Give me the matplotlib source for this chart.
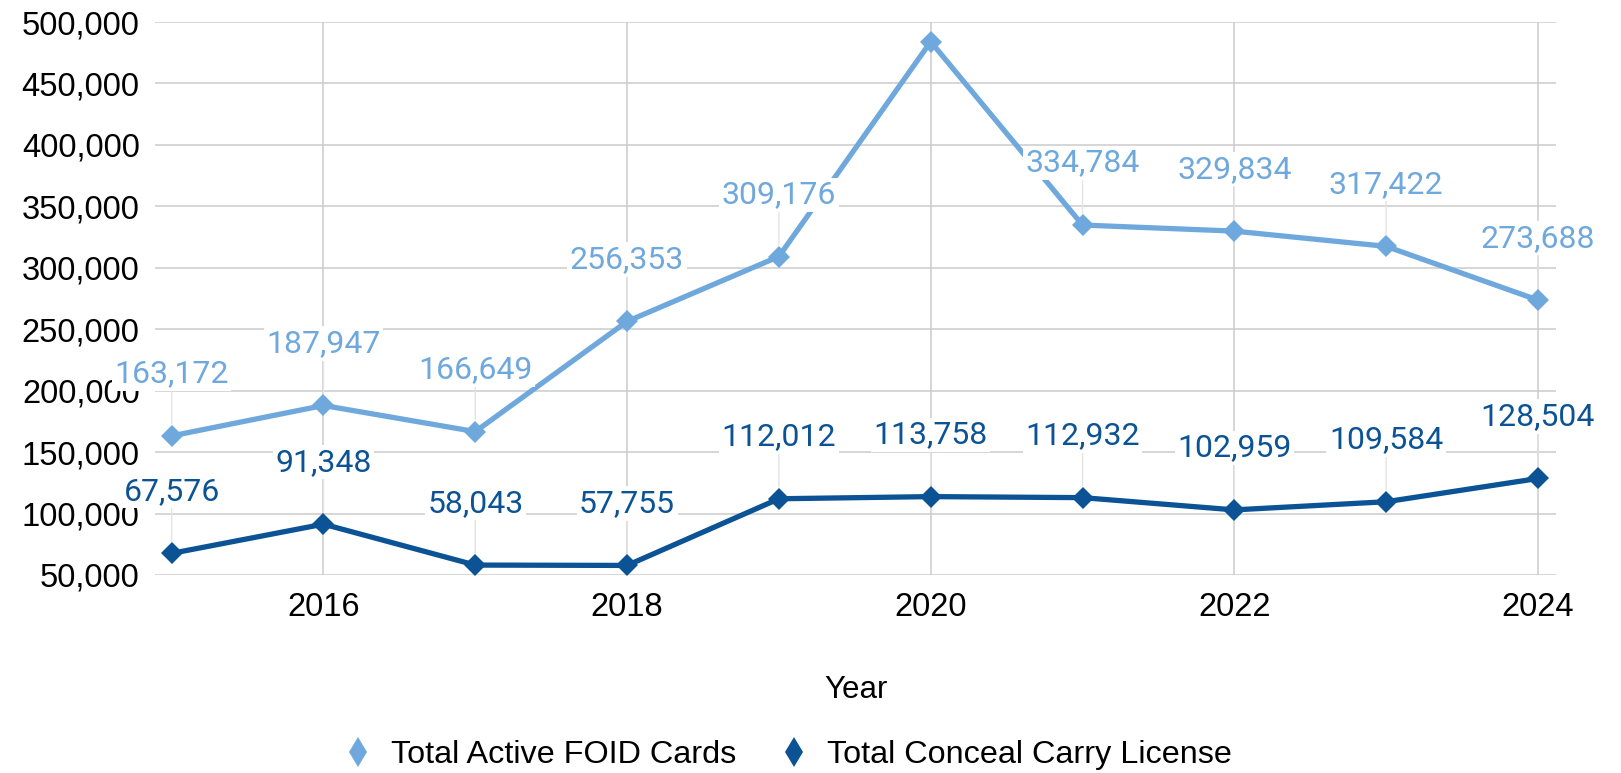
import matplotlib
matplotlib.use("Agg")
import matplotlib.pyplot as plt
from matplotlib.ticker import FuncFormatter

years = [2015, 2016, 2017, 2018, 2019, 2020, 2021, 2022, 2023, 2024]
foid_cards = [163172, 187947, 166649, 256353, 309176, 484000, 334784, 329834, 317422, 273688]
# the 2020 point carries no value label
foid_labelled = [True, True, True, True, True, False, True, True, True, True]
ccl = [67576, 91348, 58043, 57755, 112012, 113758, 112932, 102959, 109584, 128504]
ccl_labelled = [True] * len(ccl)

series_names = ["Total Active FOID Cards", "Total Conceal Carry License"]
light_blue = "#6fa8dc"
dark_blue = "#0b5394"

plt.rcParams["font.family"] = ["Liberation Sans", "DejaVu Sans"]

fig = plt.figure(figsize=(16.21, 7.73), dpi=100)
ax = fig.add_axes([0.0956, 0.2562, 0.8644, 0.7153])

for vals, flags, color, name in [
    (foid_cards, foid_labelled, light_blue, series_names[0]),
    (ccl, ccl_labelled, dark_blue, series_names[1]),
]:
    ax.plot(years, vals, color=color, lw=3.8, marker="D", ms=11.5,
            mec=color, mew=0, zorder=3, label=name)
    for x, y, show in zip(years, vals, flags):
        if not show:
            continue
        ax.annotate(f"{y:,}", (x, y), xytext=(0, 44.6), textcoords="offset points",
                    ha="center", va="center", fontsize=23, family="Roboto",
                    color=color, zorder=5, annotation_clip=False,
                    bbox=dict(boxstyle="square,pad=0.08", fc="white", ec="none"),
                    arrowprops=dict(arrowstyle="-", color="#e4e4e4", lw=1,
                                    shrinkA=0, shrinkB=8.5))

ax.set_xlim(2014.89, 2024.12)
ax.set_ylim(50000, 500000)
ax.set_xticks(range(2016, 2025, 2))
ax.set_yticks(range(50000, 500001, 50000))
ax.yaxis.set_major_formatter(FuncFormatter(lambda v, p: f"{int(v):,}"))
ax.tick_params(axis="both", length=0, labelsize=23.5, colors="black")
ax.tick_params(axis="x", pad=12)
ax.tick_params(axis="y", pad=11)

ax.grid(True, color="#cccccc", lw=1.1)
ax.set_axisbelow(True)
for s in ax.spines.values():
    s.set_visible(False)

ax.set_xlabel("Year", fontsize=22.5, labelpad=38)

handles = [
    plt.Line2D([], [], ls="none", marker="d", ms=15.3, mew=0, color=light_blue),
    plt.Line2D([], [], ls="none", marker="d", ms=15.3, mew=0, color=dark_blue),
]
fig.legend(handles, series_names, loc="center", ncol=2, frameon=False,
           bbox_to_anchor=(790 / 1621, 18 / 773), fontsize=23.3,
           handlelength=0.6, handletextpad=0.7, columnspacing=1.5)

fig.savefig("out.png", dpi=100)
